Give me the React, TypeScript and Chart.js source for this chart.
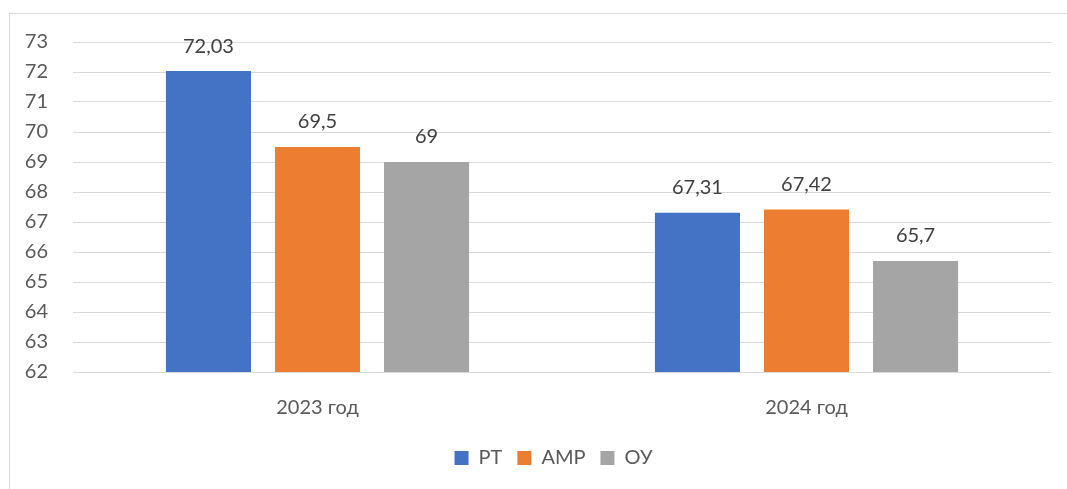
import React, { useEffect, useRef } from "react";
import { Chart, registerables } from "chart.js";

Chart.register(...registerables);

const categories = ["2023 год", "2024 год"];
const seriesNames = ["РТ", "АМР", "ОУ"];
const seriesRT = [72.03, 67.31];
const seriesAMR = [69.5, 67.42];
const seriesOU = [69, 65.7];
const colors = ["#4472C4", "#ED7D31", "#A5A5A5"];
const yMin = 62;
const yMax = 73;

const FONT = "Lato, 'Open Sans', sans-serif";

const valueLabels = {
  id: "valueLabels",
  afterDatasetsDraw(chart: any) {
    const ctx = chart.ctx;
    ctx.save();
    ctx.font = `20px ${FONT}`;
    ctx.fillStyle = "#404040";
    ctx.textAlign = "center";
    ctx.textBaseline = "middle";
    chart.data.datasets.forEach((ds: any, i: number) => {
      const meta = chart.getDatasetMeta(i);
      meta.data.forEach((bar: any, j: number) => {
        const v = ds.data[j];
        ctx.fillText(String(v).replace(".", ","), bar.x, bar.y - 25);
      });
    });
    ctx.restore();
  },
};

const shiftLegend = {
  id: "shiftLegend",
  afterLayout(chart: any) {
    if (chart.legend) {
      chart.legend.left += 28;
      chart.legend.right += 28;
    }
  },
};

export default function App() {
  const ref = useRef<HTMLCanvasElement | null>(null);
  useEffect(() => {
    if (!ref.current) return;
    const series = [seriesRT, seriesAMR, seriesOU];
    const chart = new Chart(ref.current, {
      type: "bar",
      data: {
        labels: categories,
        datasets: series.map((d, i) => ({
          label: seriesNames[i],
          data: d,
          backgroundColor: colors[i],
          borderWidth: 0,
          categoryPercentage: 0.669,
          barPercentage: 0.78,
        })),
      },
      options: {
        responsive: false,
        animation: false,
        layout: { padding: { left: 0, right: 16, top: 42, bottom: 11 } },
        plugins: {
          tooltip: { enabled: false },
          legend: {
            position: "bottom",
            labels: {
              boxWidth: 14,
              boxHeight: 14,
              padding: 15,
              color: "#595959",
              font: { family: FONT, size: 20 },
            },
          },
        },
        scales: {
          x: {
            grid: { display: false },
            border: { display: false },
            afterFit: (s: any) => {
              s.height = s.height - 3;
            },
            ticks: {
              color: "#595959",
              font: { family: FONT, size: 20 },
              padding: 16,
            },
          },
          y: {
            min: yMin,
            max: yMax,
            afterFit: (s: any) => {
              s.width = 73;
            },
            grid: { color: "#D9D9D9", lineWidth: 1, drawTicks: false },
            border: { display: false },
            ticks: {
              stepSize: 1,
              color: "#595959",
              font: { family: FONT, size: 20 },
              padding: 25,
            },
          },
        },
      },
      plugins: [valueLabels, shiftLegend],
    });
    return () => chart.destroy();
  }, []);
  return (
    <div style={{ position: "fixed", left: 0, top: 0, width: 1067, height: 489, background: "#fff", overflow: "hidden" }}>
      <div
        style={{
          position: "absolute",
          left: 9,
          top: 13,
          width: 1100,
          height: 500,
          border: "1px solid #D9D9D9",
          boxSizing: "border-box",
        }}
      />
      <canvas ref={ref} width={1067} height={489} style={{ position: "absolute", left: 0, top: 0 }} />
    </div>
  );
}
